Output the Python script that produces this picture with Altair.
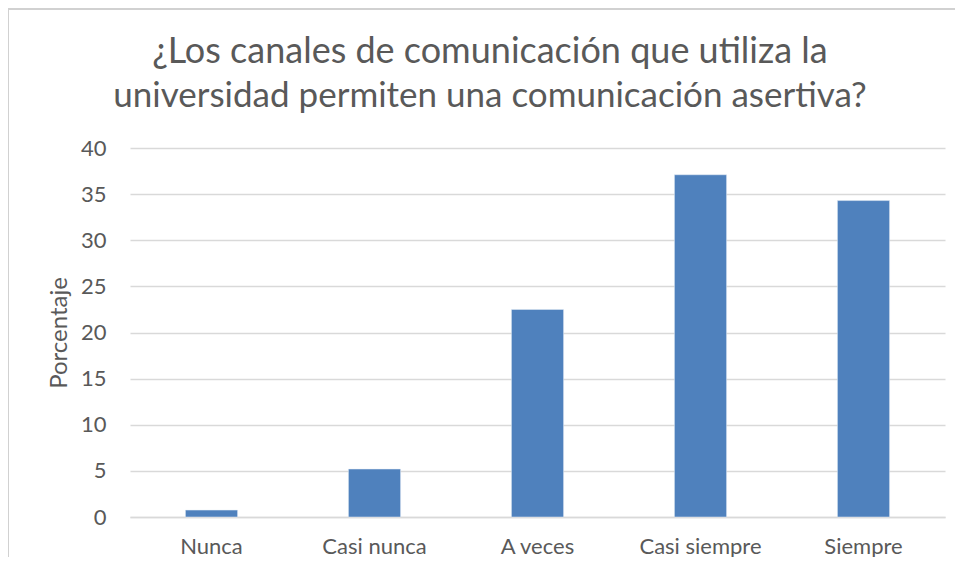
import altair as alt
import pandas as pd

categories = ["Nunca", "Casi nunca", "A veces", "Casi siempre", "Siempre"]
values = [0.75, 5.2, 22.5, 37.1, 34.3]
title_lines = ["¿Los canales de comunicación que utiliza la",
               "universidad permiten una comunicación asertiva?"]

df = pd.DataFrame({"cat": categories, "val": values})

FONT = "Lato"
GREY = "#595959"

bars = alt.Chart(df).mark_bar(color="#4F81BD", stroke="#E8EEF7", strokeWidth=0.5).encode(
    x=alt.X("cat:N", sort=categories, title=None,
            scale=alt.Scale(paddingInner=0.68, paddingOuter=0.34),
            axis=alt.Axis(labelAngle=0, labelFontSize=22, labelColor=GREY, labelFont=FONT,
                          labelPadding=19, ticks=False, domainColor="#D9D9D9", domainWidth=1.5,
                          grid=False)),
    y=alt.Y("val:Q", title="Porcentaje",
            scale=alt.Scale(domain=[0, 40], nice=False),
            axis=alt.Axis(values=list(range(0, 41, 5)), labelFontSize=22, labelColor=GREY,
                          labelFont=FONT, labelPadding=24, ticks=False, domain=False,
                          gridColor="#D9D9D9", gridWidth=1.5,
                          titleFontSize=24, titleFont=FONT, titleColor=GREY,
                          titleFontWeight="normal", titlePadding=9)),
)

title_df = pd.DataFrame({"line": title_lines, "row": [0, 1]})
title1 = alt.Chart(title_df).transform_filter("datum.row == 0").mark_text(
    font=FONT, fontSize=36, color=GREY, align="center", baseline="alphabetic", clip=False
).encode(text="line:N", x=alt.value(360), y=alt.value(-85))
title2 = alt.Chart(title_df).transform_filter("datum.row == 1").mark_text(
    font=FONT, fontSize=35, color=GREY, align="center", baseline="alphabetic", clip=False
).encode(text="line:N", x=alt.value(360), y=alt.value(-41))

frame_v = alt.Chart(df).mark_rule(color="#D0D0D0", strokeWidth=1.5, clip=False).encode(
    x=alt.value(-122), y=alt.value(-140), y2=alt.value(420)
)
frame_h = alt.Chart(df).mark_rule(color="#D0D0D0", strokeWidth=1.5, clip=False).encode(
    x=alt.value(-122), x2=alt.value(830), y=alt.value(-139)
)

chart = alt.layer(frame_v, frame_h, bars, title1, title2).properties(
    width=815, height=369,
    padding={"left": 122, "top": 140, "right": 10, "bottom": 40},
    autosize=alt.AutoSizeParams(type="none"),
).configure_view(stroke=None)

chart.save("out.html", embed_options={"renderer": "svg", "actions": False})
